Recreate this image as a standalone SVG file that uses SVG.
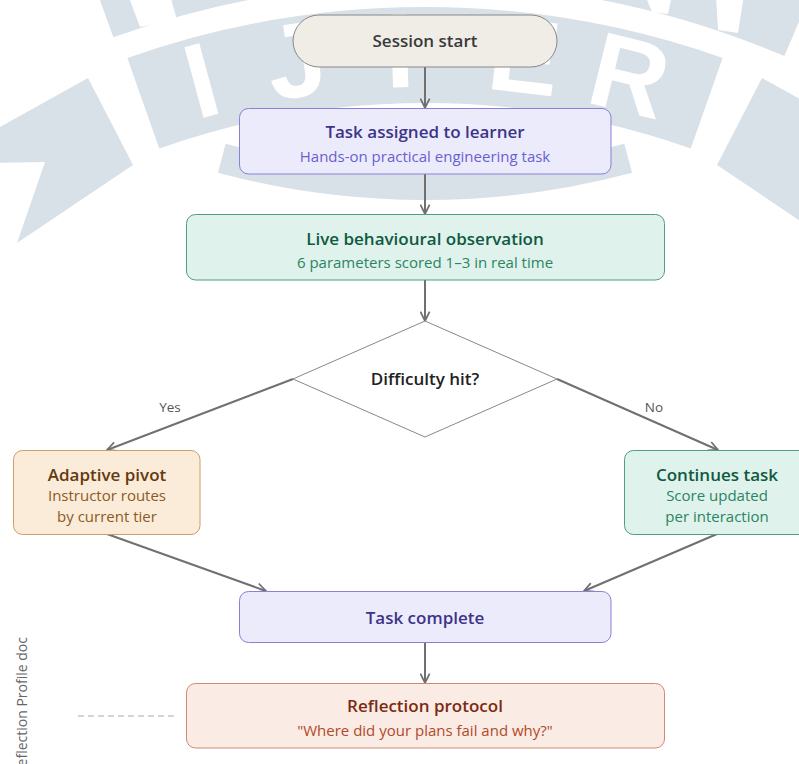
<svg xmlns="http://www.w3.org/2000/svg" width="799" height="764" viewBox="0 0 799 764">
<defs>
<style>
.wm{fill:#d8e0e8}
.wmb{fill:none;stroke:#d8e0e8}
.wl{font-family:"Liberation Sans",Arial,sans-serif;font-weight:bold;font-size:106px;fill:#ffffff;text-anchor:middle}
.t{font-family:"Open Sans","Noto Sans",sans-serif;text-anchor:middle}
.h{font-size:17px;font-weight:600}
.s{font-size:15px;font-weight:400}
.e{fill:none;stroke:#707070;stroke-width:2}
.lbl{font-family:"Open Sans","Noto Sans",sans-serif;font-size:13.5px;fill:#555555;text-anchor:middle}
.lav{fill:#ecebfb;stroke:#8a80d6;stroke-width:1}
.grn{fill:#e0f2ec;stroke:#4f9e81;stroke-width:1}
</style>
<marker id="arr" viewBox="0 0 10 10" refX="9.5" refY="5" markerWidth="11" markerHeight="11" markerUnits="userSpaceOnUse" orient="auto">
<path d="M1,0.8 L9.5,5 L1,9.2" fill="none" stroke="#707070" stroke-width="1.6"/>
</marker>
</defs>
<rect width="799" height="764" fill="#ffffff"/>
<g id="watermark">
<path class="wmb" stroke-width="96" d="M 143.3 103.2 A 848 848 0 0 1 706.7 103.2"/>
<path class="wmb" stroke-width="90" d="M 98.1 -5 A 965 965 0 0 1 802 14.7"/>
<path class="wmb" stroke-width="30" d="M 221.8 158.2 A 785 785 0 0 0 628.2 158.2"/>
<polygon class="wm" points="88,78 133,165 17,243 45,162 -20,163 -20,138"/>
<polygon class="wm" points="762,78 717,165 833,243 805,162 870,163 870,138"/>
<polygon fill="#ffffff" points="128,-5 170,-5 177,20 140,27"/>
<polygon fill="#ffffff" points="645,-5 672,-5 668,14 652,12"/>
<polygon fill="#ffffff" points="716,-5 744,-5 738,33 718,30"/>
<text class="wl" x="425" y="87" transform="rotate(-15.2 425 903)">I</text>
<text class="wl" x="425" y="87" transform="rotate(-8.7 425 903)">J</text>
<text class="wl" x="425" y="87" transform="rotate(-1.7 425 903)">I</text>
<text class="wl" x="425" y="87" transform="rotate(6.7 425 903)">E</text>
<text class="wl" x="425" y="87" transform="rotate(13.9 425 903)">R</text>
</g>
<g id="connectors">
<line class="e" x1="425" y1="67" x2="425" y2="108" marker-end="url(#arr)"/>
<line class="e" x1="425" y1="174" x2="425" y2="214" marker-end="url(#arr)"/>
<line class="e" x1="425" y1="280" x2="425" y2="321" marker-end="url(#arr)"/>
<line class="e" x1="293" y1="379" x2="107" y2="450" marker-end="url(#arr)"/>
<text class="lbl" x="170" y="412">Yes</text>
<line class="e" x1="557" y1="379" x2="718" y2="450" marker-end="url(#arr)"/>
<text class="lbl" x="654" y="412">No</text>
<line class="e" x1="107" y1="534" x2="266" y2="591" marker-end="url(#arr)"/>
<line class="e" x1="717" y1="534" x2="584" y2="591" marker-end="url(#arr)"/>
<line class="e" x1="425" y1="643" x2="425" y2="683" marker-end="url(#arr)"/>
<line x1="78" y1="716" x2="178" y2="716" stroke="#aaaaaa" stroke-width="1.2" stroke-dasharray="6 4"/>
</g>
<g id="session-start">
<rect x="293" y="15" width="264" height="52" rx="26" fill="#f0ede6" stroke="#888888" stroke-width="1"/>
<text class="t h" x="425" y="47" fill="#3a3a3a">Session start</text>
</g>
<g id="task-assigned">
<rect class="lav" x="239.5" y="108.5" width="371.5" height="65.5" rx="9"/>
<text class="t h" x="425" y="137.5" fill="#3c3489">Task assigned to learner</text>
<text class="t s" x="425" y="162" fill="#6a5fcf">Hands-on practical engineering task</text>
</g>
<g id="live-observation">
<rect class="grn" x="186.5" y="214.5" width="478" height="65.5" rx="9"/>
<text class="t h" x="425" y="245" fill="#0f5a41">Live behavioural observation</text>
<text class="t s" x="425" y="268" fill="#2a8563">6 parameters scored 1–3 in real time</text>
</g>
<g id="difficulty">
<polygon points="425,321 557,379 425,437 293,379" fill="#ffffff" stroke="#888888" stroke-width="1"/>
<text class="t h" x="425" y="384.5" fill="#222222">Difficulty hit?</text>
</g>
<g id="adaptive-pivot">
<rect x="13.5" y="450.5" width="186.5" height="84" rx="9" fill="#fbecd9" stroke="#c9a06c" stroke-width="1"/>
<text class="t h" x="107" y="480.5" fill="#643a0e">Adaptive pivot</text>
<text class="t s" x="107" y="501" fill="#8c5a24">Instructor routes</text>
<text class="t s" x="107" y="522" fill="#8c5a24">by current tier</text>
</g>
<g id="continues-task">
<rect class="grn" x="624.5" y="450.5" width="187" height="84" rx="9"/>
<text class="t h" x="717" y="480.5" fill="#0f5a41">Continues task</text>
<text class="t s" x="717" y="501" fill="#2a8563">Score updated</text>
<text class="t s" x="717" y="522" fill="#2a8563">per interaction</text>
</g>
<g id="task-complete">
<rect class="lav" x="239.5" y="591.5" width="371.5" height="51" rx="9"/>
<text class="t h" x="425" y="624" fill="#3c3489">Task complete</text>
</g>
<g id="reflection-protocol">
<rect x="186.5" y="683.5" width="478" height="64.5" rx="9" fill="#fbebe5" stroke="#d08a72" stroke-width="1"/>
<text class="t h" x="425" y="712" fill="#7a2b12">Reflection protocol</text>
<text class="t s" x="425" y="736" fill="#b04a2a">"Where did your plans fail and why?"</text>
</g>
<g id="side-label">
<text transform="translate(27,637) rotate(-90)" x="0" y="0" font-family="Open Sans, Noto Sans, sans-serif" font-size="14" fill="#666666" text-anchor="end">Reflection Profile doc</text>
</g>
</svg>
